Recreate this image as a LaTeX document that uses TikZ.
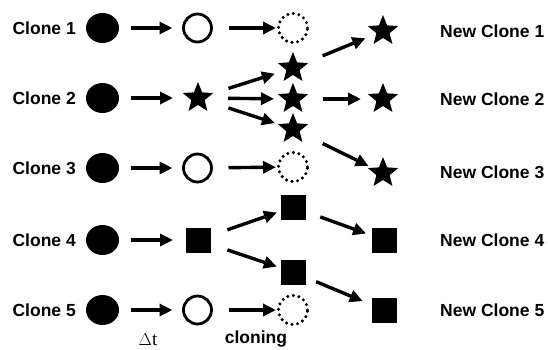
\documentclass[tikz,border=0pt]{standalone}
\usepackage{fontspec}
\setmainfont{Liberation Sans}
\newfontfamily\serifface{Liberation Serif}
\usetikzlibrary{shapes.geometric,arrows.meta}
\begin{document}
\begin{tikzpicture}[x=1pt,y=-1pt,
  lbl/.style={font=\fontsize{17.5}{20}\selectfont\bfseries, inner sep=0pt},
  dot/.style={ellipse, fill=black, minimum width=33pt, minimum height=30pt, inner sep=0pt},
  ring/.style={circle, draw=black, line width=2.8pt, minimum size=28pt, inner sep=0pt},
  dring/.style={circle, draw=black, line width=3.4pt, minimum size=29pt, inner sep=0pt,
    dash pattern=on 0pt off 5.6pt, line cap=round},
  starnode/.style={star, star points=5, star point ratio=2.3, fill=black,
    minimum size=32pt, inner sep=0pt},
  sq/.style={rectangle, fill=black, minimum size=25pt, inner sep=0pt},
  arr/.style={line width=3.4pt, -{Triangle[length=13pt,width=12pt]}},
]
\useasboundingbox (0,0) rectangle (548,349);

% row labels and starting clones
\foreach \i/\y in {1/28,2/98,3/168,4/240,5/310}{
  \node[lbl, anchor=east] (L\i) at (76,\y) {Clone \i};
  \node[dot] (C\i) at (102.5,\y) {};
}
\node[lbl, anchor=west] (N1) at (440,31) {New Clone 1};
\node[lbl, anchor=west] (N2) at (440,99) {New Clone 2};
\node[lbl, anchor=west] (N3) at (440,172) {New Clone 3};
\node[lbl, anchor=west] (N4) at (440,240) {New Clone 4};
\node[lbl, anchor=west] (N5) at (440,310) {New Clone 5};

% state after the time step
\node[ring] (T1) at (197.5,28) {};
\node[starnode] (T2) at (198,98) {};
\node[ring] (T3) at (197.5,168) {};
\node[sq] (T4) at (198,240) {};
\node[ring] (T5) at (197.5,310) {};

% cloning step
\node[dring] (D1) at (293,28) {};
\node[starnode] (S1) at (293,68) {};
\node[starnode] (S2) at (293,99) {};
\node[starnode] (S3) at (293,129) {};
\node[dring] (D3) at (293,167) {};
\node[sq] (Q1) at (293,207) {};
\node[sq] (Q2) at (293,272) {};
\node[dring] (D5) at (293,310) {};

% new clones
\node[starnode] (M1) at (383,31) {};
\node[starnode] (M2) at (383,99) {};
\node[starnode] (M3) at (383,173) {};
\node[sq] (M4) at (384,240) {};
\node[sq] (M5) at (384,310) {};

% time-step arrows
\foreach \i in {1,...,5}{
  \draw[arr, shorten <=28pt, shorten >=25pt] (C\i.center) -- (T\i.center);
}
% cloning arrows
\draw[arr, shorten <=31pt, shorten >=17pt] (T1.center) -- (D1.center);
\draw[arr, shorten <=31pt, shorten >=17pt] (T3.center) -- (D3.center);
\draw[arr, shorten <=31pt, shorten >=17pt] (T5.center) -- (D5.center);
\draw[arr, shorten <=32pt, shorten >=19pt] (T2.center) -- (S1.center);
\draw[arr, shorten <=30pt, shorten >=19pt] (T2.center) -- (S2.center);
\draw[arr, shorten <=32pt, shorten >=19pt] (T2.center) -- (S3.center);
\draw[arr, shorten <=31pt, shorten >=17pt] (T4.center) -- (Q1.center);
\draw[arr, shorten <=31pt, shorten >=17pt] (T4.center) -- (Q2.center);

% arrows to the new clones
\draw[arr, shorten <=32pt, shorten >=19pt] (S1.center) -- (M1.center);
\draw[arr, shorten <=30pt, shorten >=22pt] (S2.center) -- (M2.center);
\draw[arr, shorten <=33pt, shorten >=16pt] (S3.center) -- (M3.center);
\draw[arr, shorten <=29pt, shorten >=19pt] (Q1.center) -- (M4.center);
\draw[arr, shorten <=25pt, shorten >=23pt] (Q2.center) -- (M5.center);

% step captions
\node[inner sep=0pt, font=\serifface\fontsize{19}{20}\selectfont] (dt) at (148,340) {$\Delta$t};
\node[lbl] (cl) at (256,339) {cloning};
\end{tikzpicture}
\end{document}
